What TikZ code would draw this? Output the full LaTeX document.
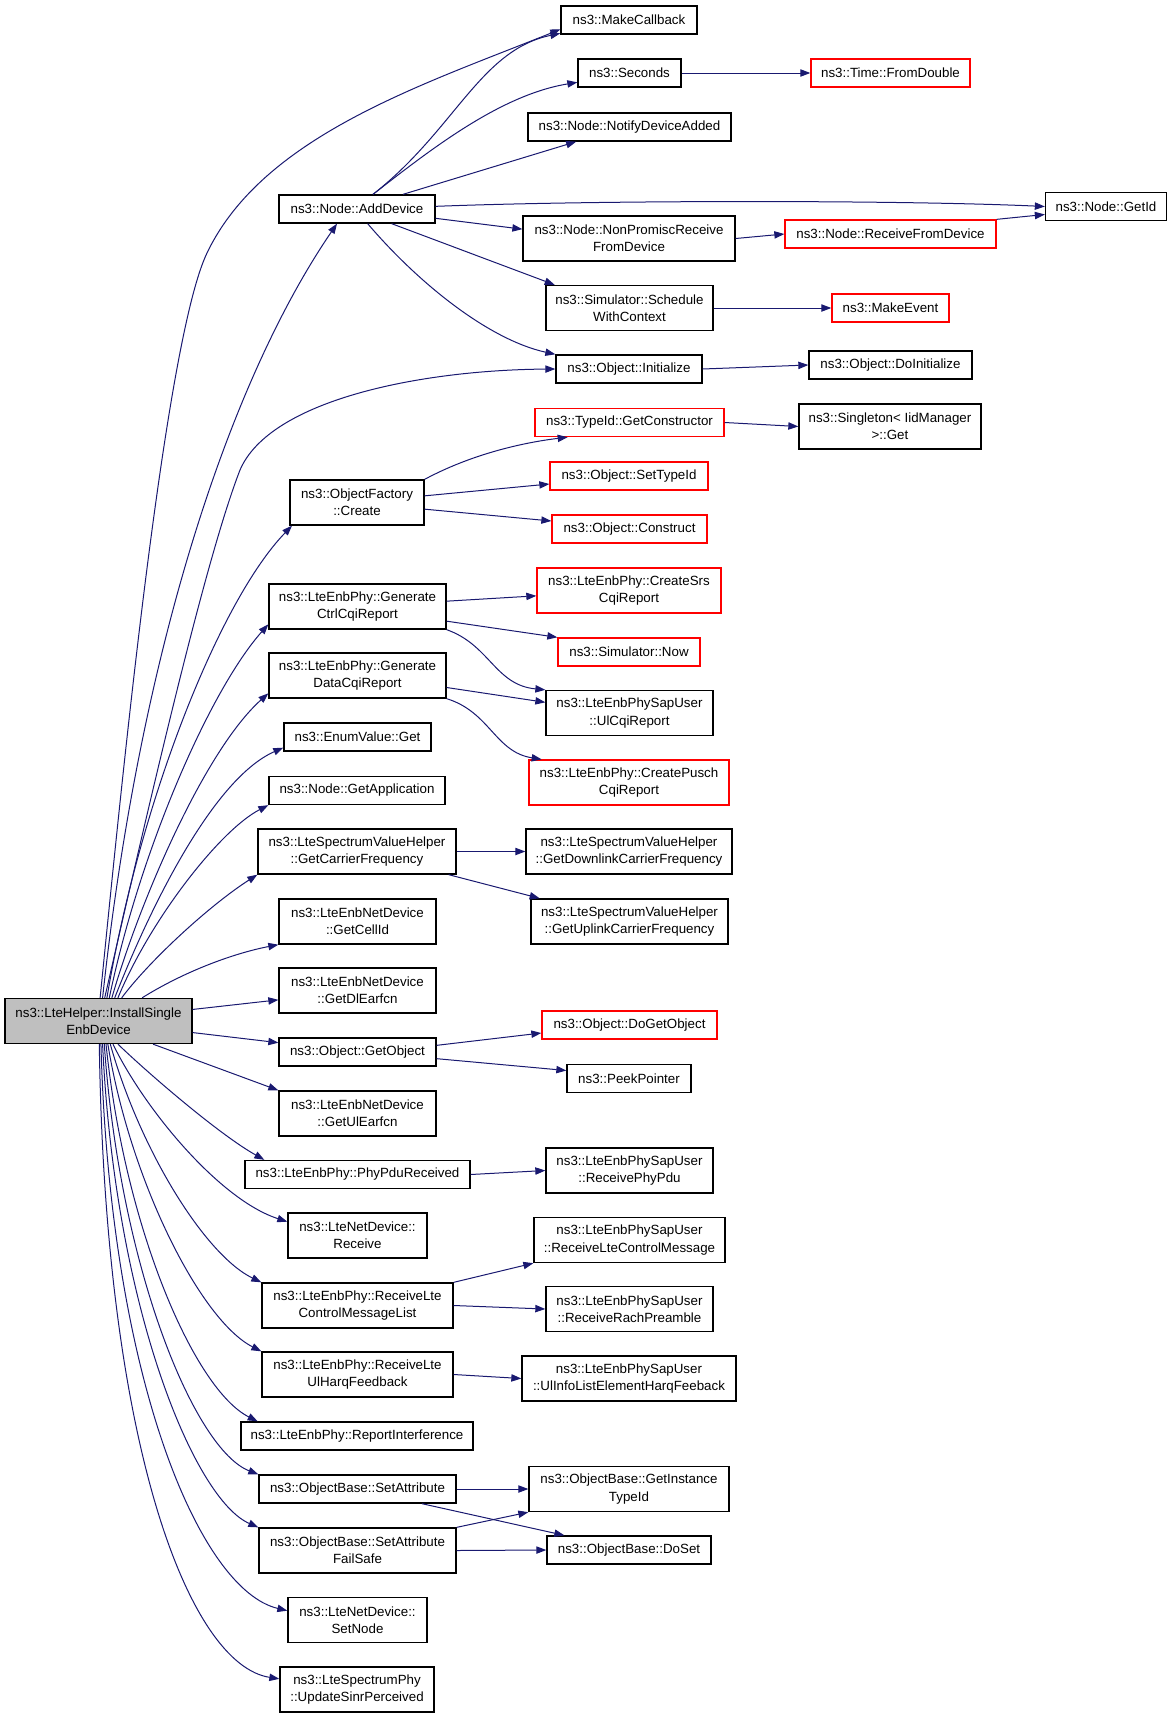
\documentclass[tikz,border=0pt]{standalone}
\usepackage{fontspec}
\setmainfont{Liberation Sans}
\usetikzlibrary{arrows.meta}
\definecolor{edgeblue}{HTML}{191970}
\definecolor{mainfill}{HTML}{BFBFBF}
\begin{document}
\begin{tikzpicture}
    [
    x=0.75pt, y=-0.75pt,
    fn/.style={rectangle,draw=black,line width=1pt,inner sep=0pt,minimum height=21pt,font=\fontsize{10}{13}\selectfont,align=center},
    fn2/.style={fn,minimum height=33.75pt},
    undoc/.style={draw=red},
    wd/.style={minimum width=#1*0.75pt},
    call/.style={draw=edgeblue,line width=0.75pt,-{Triangle[length=7.5pt,width=5.5pt]}}
    ]
    \useasboundingbox (0,0) rectangle (1168,1717);
    \node (main) at (98.5,1021) [fn2,wd=187,fill=mainfill] {ns3::LteHelper::InstallSingle\\EnbDevice};
    \node (makeCallback) at (629,20) [fn,wd=136] {ns3::MakeCallback};
    \node (seconds) at (629.5,73) [fn,wd=103] {ns3::Seconds};
    \node (fromDouble) at (890.5,73) [fn,undoc,wd=159] {ns3::Time::FromDouble};
    \node (notifyAdded) at (629.5,127) [fn,wd=203] {ns3::Node::NotifyDeviceAdded};
    \node (addDevice) at (357,209) [fn,wd=156] {ns3::Node::AddDevice};
    \node (getId) at (1106,206.5) [fn,wd=121] {ns3::Node::GetId};
    \node (nonPromisc) at (629,238.5) [fn2,wd=212] {ns3::Node::NonPromiscReceive\\FromDevice};
    \node (recvFromDev) at (890.5,234) [fn,undoc,wd=211] {ns3::Node::ReceiveFromDevice};
    \node (schedule) at (629.5,308) [fn2,wd=167] {ns3::Simulator::Schedule\\WithContext};
    \node (makeEvent) at (890.5,308) [fn,undoc,wd=117] {ns3::MakeEvent};
    \node (initialize) at (629,369) [fn,wd=146] {ns3::Object::Initialize};
    \node (doInitialize) at (890.5,365) [fn,wd=163] {ns3::Object::DoInitialize};
    \node (getConstructor) at (629.5,422.5) [fn,undoc,wd=189] {ns3::TypeId::GetConstructor};
    \node (iidGet) at (890,426.5) [fn2,wd=182] {ns3::Singleton< IidManager\\>::Get};
    \node (factoryCreate) at (357,502.5) [fn2,wd=134] {ns3::ObjectFactory\\::Create};
    \node (setTypeId) at (629,476) [fn,undoc,wd=158] {ns3::Object::SetTypeId};
    \node (construct) at (629.5,529) [fn,undoc,wd=155] {ns3::Object::Construct};
    \node (genCtrl) at (357.5,606.5) [fn2,wd=177] {ns3::LteEnbPhy::Generate\\CtrlCqiReport};
    \node (createSrs) at (629,590.5) [fn2,undoc,wd=184] {ns3::LteEnbPhy::CreateSrs\\CqiReport};
    \node (simNow) at (629,652) [fn,undoc,wd=142] {ns3::Simulator::Now};
    \node (genData) at (357.5,675.5) [fn2,wd=177] {ns3::LteEnbPhy::Generate\\DataCqiReport};
    \node (ulCqi) at (629.5,713) [fn2,wd=167] {ns3::LteEnbPhySapUser\\::UlCqiReport};
    \node (enumGet) at (357.5,737) [fn,wd=147] {ns3::EnumValue::Get};
    \node (createPusch) at (629,782.5) [fn2,undoc,wd=200] {ns3::LteEnbPhy::CreatePusch\\CqiReport};
    \node (getApp) at (357,790.5) [fn,wd=176] {ns3::Node::GetApplication};
    \node (carrierFreq) at (357,851.5) [fn2,wd=198] {ns3::LteSpectrumValueHelper\\::GetCarrierFrequency};
    \node (dlFreq) at (629,851.5) [fn2,wd=206] {ns3::LteSpectrumValueHelper\\::GetDownlinkCarrierFrequency};
    \node (ulFreq) at (629.5,921.5) [fn2,wd=197] {ns3::LteSpectrumValueHelper\\::GetUplinkCarrierFrequency};
    \node (cellId) at (357.5,921.5) [fn2,wd=157] {ns3::LteEnbNetDevice\\::GetCellId};
    \node (dlEarfcn) at (357.5,990.5) [fn2,wd=157] {ns3::LteEnbNetDevice\\::GetDlEarfcn};
    \node (doGetObject) at (629.5,1025) [fn,undoc,wd=175] {ns3::Object::DoGetObject};
    \node (getObject) at (357.5,1052) [fn,wd=157] {ns3::Object::GetObject};
    \node (peekPointer) at (629,1078.5) [fn,wd=124] {ns3::PeekPointer};
    \node (ulEarfcn) at (357.5,1113.5) [fn2,wd=157] {ns3::LteEnbNetDevice\\::GetUlEarfcn};
    \node (phyPdu) at (357.5,1174.5) [fn,wd=225] {ns3::LteEnbPhy::PhyPduReceived};
    \node (recvPhyPdu) at (629.5,1170.5) [fn2,wd=167] {ns3::LteEnbPhySapUser\\::ReceivePhyPdu};
    \node (netReceive) at (357.5,1235.5) [fn2,wd=139] {ns3::LteNetDevice::\\Receive};
    \node (recvCtrlMsg) at (629.5,1240) [fn2,wd=191] {ns3::LteEnbPhySapUser\\::ReceiveLteControlMessage};
    \node (ctrlMsgList) at (357.5,1305.5) [fn2,wd=191] {ns3::LteEnbPhy::ReceiveLte\\ControlMessageList};
    \node (rachPreamble) at (629.5,1309) [fn2,wd=167] {ns3::LteEnbPhySapUser\\::ReceiveRachPreamble};
    \node (ulHarq) at (357.5,1374.5) [fn2,wd=191] {ns3::LteEnbPhy::ReceiveLte\\UlHarqFeedback};
    \node (harqFeeback) at (629,1378.5) [fn2,wd=214] {ns3::LteEnbPhySapUser\\::UlInfoListElementHarqFeeback};
    \node (reportIntf) at (357,1436) [fn,wd=232] {ns3::LteEnbPhy::ReportInterference};
    \node (setAttr) at (357.5,1489) [fn,wd=197] {ns3::ObjectBase::SetAttribute};
    \node (instTypeId) at (629,1489) [fn2,wd=200] {ns3::ObjectBase::GetInstance\\TypeId};
    \node (setAttrFs) at (357.5,1550.5) [fn2,wd=197] {ns3::ObjectBase::SetAttribute\\FailSafe};
    \node (doSet) at (629,1550) [fn,wd=164] {ns3::ObjectBase::DoSet};
    \node (setNode) at (357.5,1620) [fn2,wd=139] {ns3::LteNetDevice::\\SetNode};
    \node (sinr) at (357,1689.5) [fn2,wd=154] {ns3::LteSpectrumPhy\\::UpdateSinrPerceived};
    % calls of the installer, upwards
    \draw [call] (main.86) .. controls (120,800) and (164,343) .. (207,253) .. controls (263,136) and (422,85) .. ([yshift=-7pt]makeCallback.west);
    \draw [call] (main.80) .. controls (140,650) and (230,380) .. ([xshift=-15pt]addDevice.south);
    \draw [call] (main.75) .. controls (150,800) and (205,560) .. (240,470) .. controls (270,400) and (420,370) .. (initialize.west);
    \draw [call] (main.70) .. controls (140,800) and (220,600) .. ([xshift=2pt]factoryCreate.south west);
    \draw [call] (main.65) .. controls (140,850) and (210,690) .. ([yshift=4pt]genCtrl.south west);
    \draw [call] (main.60) .. controls (140,900) and (205,750) .. ([yshift=4pt]genData.south west);
    \draw [call] (main.55) .. controls (145,920) and (210,780) .. ([yshift=3pt]enumGet.south west);
    \draw [call] (main.50) .. controls (150,920) and (220,830) .. (getApp.south west);
    \draw [call] (main.45) .. controls (150,960) and (210,905) .. (carrierFreq.south west);
    \draw [call] (main.28) .. controls (190,968) and (240,952) .. (cellId.south west);
    \draw [call] (main.7) -- ([yshift=-7pt]dlEarfcn.west);
    \draw [call] (main.-7) -- ([yshift=7pt]getObject.west);
    % calls of the installer, downwards
    \draw [call] (main.-23) -- (ulEarfcn.north west);
    \draw [call] (main.-50) .. controls (150,1075) and (220,1135) .. ([xshift=15pt]phyPdu.north west);
    \draw [call] (main.-58) .. controls (145,1110) and (220,1200) .. ([yshift=-7pt]netReceive.north west);
    \draw [call] (main.-63) .. controls (140,1150) and (205,1255) .. (ctrlMsgList.north west);
    \draw [call] (main.-68) .. controls (130,1180) and (200,1320) .. (ulHarq.north west);
    \draw [call] (main.-72) .. controls (125,1230) and (195,1390) .. ([xshift=13pt]reportIntf.north west);
    \draw [call] (main.-76) .. controls (120,1270) and (195,1450) .. (setAttr.north west);
    \draw [call] (main.-80) .. controls (115,1310) and (195,1500) .. (setAttrFs.north west);
    \draw [call] (main.-84) .. controls (110,1380) and (200,1590) .. ([yshift=7pt]setNode.west);
    \draw [call] (main.-88) .. controls (105,1450) and (190,1665) .. ([yshift=8pt]sinr.west);
    % second level
    \draw [call] ([xshift=12pt]addDevice.north) .. controls (455,130) and (480,50) .. ([yshift=-10pt]makeCallback.west);
    \draw [call] ([xshift=12pt]addDevice.north) .. controls (430,150) and (500,95) .. ([yshift=-7pt]seconds.west);
    \draw [call] ([xshift=34.5pt]addDevice.north) -- ([xshift=-40pt]notifyAdded.south);
    \draw [call] ([yshift=2pt]addDevice.east) .. controls (600,200) and (900,200) .. (getId.west);
    \draw [call] ([yshift=-7pt]addDevice.east) -- ([yshift=7pt]nonPromisc.west);
    \draw [call] ([xshift=26pt]addDevice.south) -- ([xshift=7pt]schedule.north west);
    \draw [call] ([xshift=8pt]addDevice.south) .. controls (420,285) and (490,340) .. (initialize.north west);
    \draw [call] (seconds.east) -- (fromDouble.west);
    \draw [call] (nonPromisc.east) -- (recvFromDev.west);
    \draw [call] (recvFromDev.north east) -- ([yshift=-6pt]getId.west);
    \draw [call] (schedule.east) -- (makeEvent.west);
    \draw [call] (initialize.east) -- (doInitialize.west);
    \draw [call] (factoryCreate.north east) .. controls (470,455) and (520,443) .. ([xshift=25pt]getConstructor.south west);
    \draw [call] ([yshift=5pt]factoryCreate.east) -- ([yshift=-6pt]setTypeId.west);
    \draw [call] ([yshift=-5pt]factoryCreate.east) -- ([yshift=6pt]construct.west);
    \draw [call] (getConstructor.east) -- (iidGet.west);
    \draw [call] ([yshift=4pt]genCtrl.east) -- ([yshift=-4pt]createSrs.west);
    \draw [call] ([yshift=-11pt]genCtrl.east) -- (simNow.north west);
    \draw [call] (genCtrl.south east) .. controls (490,645) and (495,685) .. (ulCqi.north west);
    \draw [call] ([yshift=-9pt]genData.east) -- ([yshift=8pt]ulCqi.west);
    \draw [call] (genData.south east) .. controls (490,712) and (495,752) .. ([xshift=10pt]createPusch.north west);
    \draw [call] (carrierFreq.east) -- (dlFreq.west);
    \draw [call] ([xshift=-6pt]carrierFreq.south east) -- ([xshift=7pt]ulFreq.north west);
    \draw [call] ([yshift=5pt]getObject.east) -- ([yshift=-6pt]doGetObject.west);
    \draw [call] ([yshift=-5pt]getObject.east) -- ([yshift=6pt]peekPointer.west);
    \draw [call] (phyPdu.east) -- (recvPhyPdu.west);
    \draw [call] (ctrlMsgList.north east) -- (recvCtrlMsg.south west);
    \draw [call] (ctrlMsgList.east) -- (rachPreamble.west);
    \draw [call] (ulHarq.east) -- (harqFeeback.west);
    \draw [call] (setAttr.east) -- (instTypeId.west);
    \draw [call] ([xshift=-26pt]setAttr.south east) -- ([xshift=13.5pt]doSet.north west);
    \draw [call] (setAttrFs.north east) -- (instTypeId.south west);
    \draw [call] (setAttrFs.east) -- (doSet.west);
  \end{tikzpicture}
\end{document}
